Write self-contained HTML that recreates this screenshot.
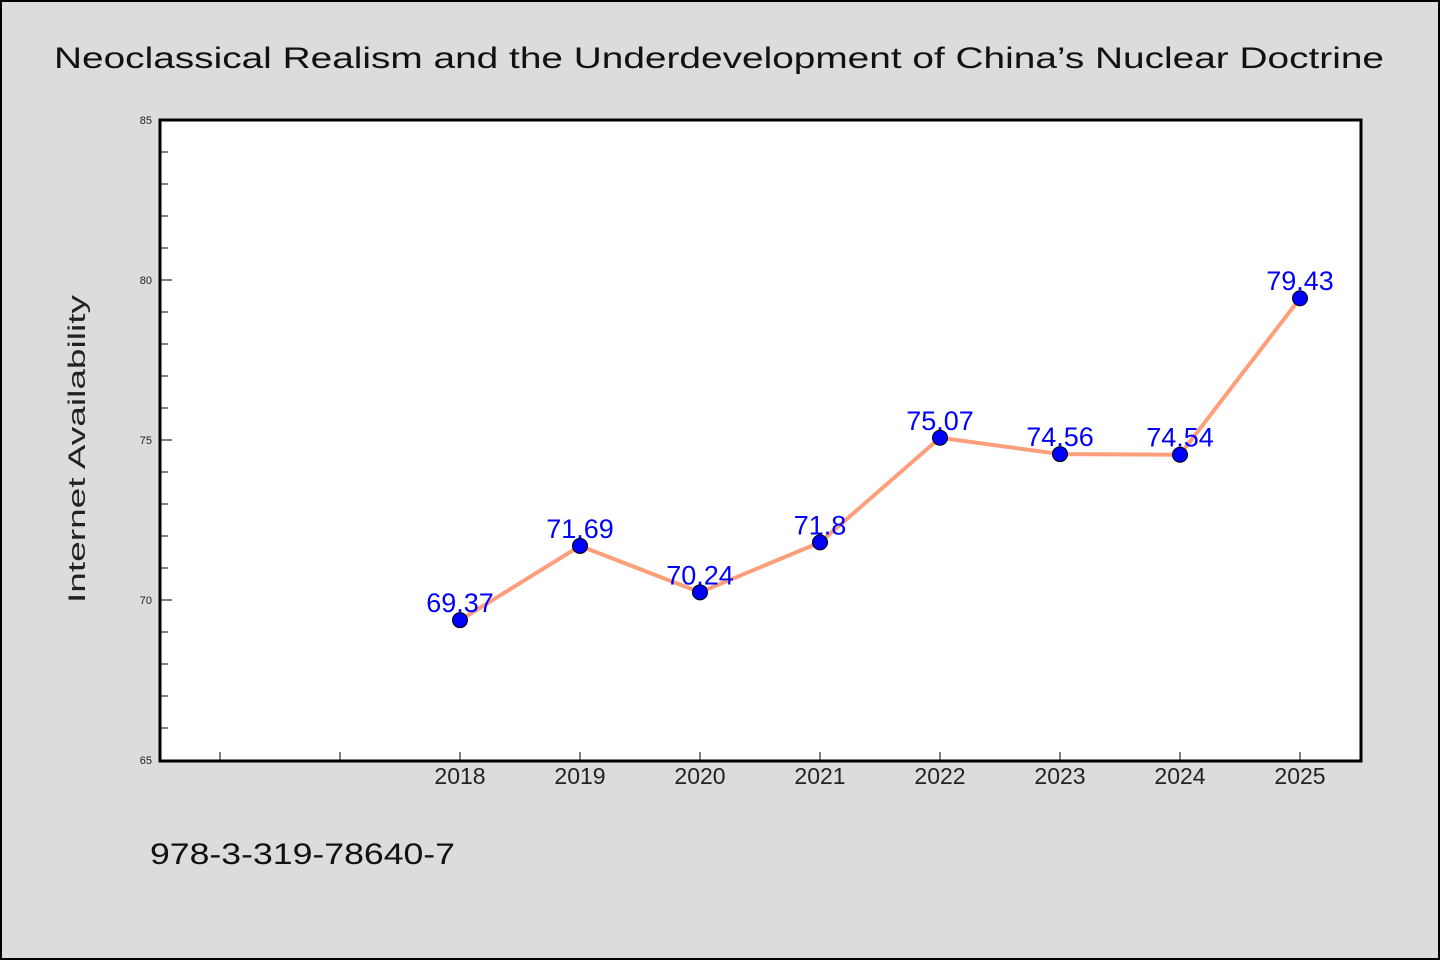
<!DOCTYPE html>
<html><head><meta charset="utf-8"><style>
html,body{margin:0;padding:0;background:#dcdcdc;}
svg{display:block;font-family:"WenQuanYi Zen Hei","Liberation Sans",sans-serif;}
</style></head><body>
<svg id="chart" width="1440" height="960">
<rect x="1" y="1" width="1438" height="958" fill="#dcdcdc" stroke="#000" stroke-width="2"/>
<text x="54" y="68" font-size="30" fill="#111" textLength="1330" lengthAdjust="spacingAndGlyphs">Neoclassical Realism and the Underdevelopment of China’s Nuclear Doctrine</text>
<rect x="160" y="120" width="1201" height="641" fill="#fff"/>
<g id="axes"></g>
<text transform="translate(85,449) rotate(-90)" text-anchor="middle" font-size="24" fill="#222" textLength="308" lengthAdjust="spacingAndGlyphs">Internet Availability</text>
<text x="150" y="864" font-size="30" fill="#111" textLength="305" lengthAdjust="spacingAndGlyphs">978-3-319-78640-7</text>
</svg>
<script>
const categories=["2018","2019","2020","2021","2022","2023","2024","2025"];
const values=[69.37,71.69,70.24,71.8,75.07,74.56,74.54,79.43];
const valueLabels=["69.37","71.69","70.24","71.8","75.07","74.56","74.54","79.43"];
const yTickLabels=["65","70","75","80","85"];
const NS="http://www.w3.org/2000/svg";
const g=document.getElementById('axes');
const X0=160,X1=1360,Y0=760,Y1=120,ymin=65,ymax=85;
const xmin=2015.5,xmax=2025.5;
function xs(v){return X0+(v-xmin)/(xmax-xmin)*(X1-X0);}
function ys(v){return Y0-(v-ymin)/(ymax-ymin)*(Y0-Y1);}
function mk(t,a){const e=document.createElementNS(NS,t);for(const k in a)e.setAttribute(k,a[k]);g.appendChild(e);return e;}
// y ticks
for(let v=ymin;v<=ymax;v++){
  const major=(v%5===0);
  const t=mk('line',{x1:X0,x2:X0+(major?12:8),y1:ys(v),y2:ys(v),stroke:'#000','stroke-width':1});
  
  
}
yTickLabels.forEach(s=>{
  const t=mk('text',{x:X0-8,y:ys(+s)+4,'text-anchor':'end','font-size':11,fill:'#222'});
  t.textContent=s;
  
  
});
// x ticks
for(let yr=2016;yr<=2025;yr++){
  const t=mk('line',{x1:xs(yr),x2:xs(yr),y1:Y0,y2:Y0-8,stroke:'#000','stroke-width':1});
  
  
}
categories.forEach(c=>{
  const t=mk('text',{x:xs(+c),y:784,'text-anchor':'middle','font-size':23,fill:'#222'});
  t.textContent=c;
  
  
});
// frame
const fr=mk('rect',{x:160,y:120,width:1201,height:641,fill:'none',stroke:'#000','stroke-width':3});


// line
const pts=categories.map((c,i)=>xs(+c)+','+ys(values[i])).join(' ');
const ln=mk('polyline',{points:pts,fill:'none',stroke:'#ff9e7a','stroke-width':4,'stroke-linejoin':'round'});


categories.forEach((c,i)=>{
  const p=mk('circle',{cx:xs(+c),cy:ys(values[i]),r:7.5,fill:'#0000ff',stroke:'#000','stroke-width':1});
  
  
  const t=mk('text',{x:xs(+c),y:ys(values[i])-8,'text-anchor':'middle','font-size':27,fill:'#0000ff'});
  t.textContent=valueLabels[i];
  
  
});
</script>
</body></html>
